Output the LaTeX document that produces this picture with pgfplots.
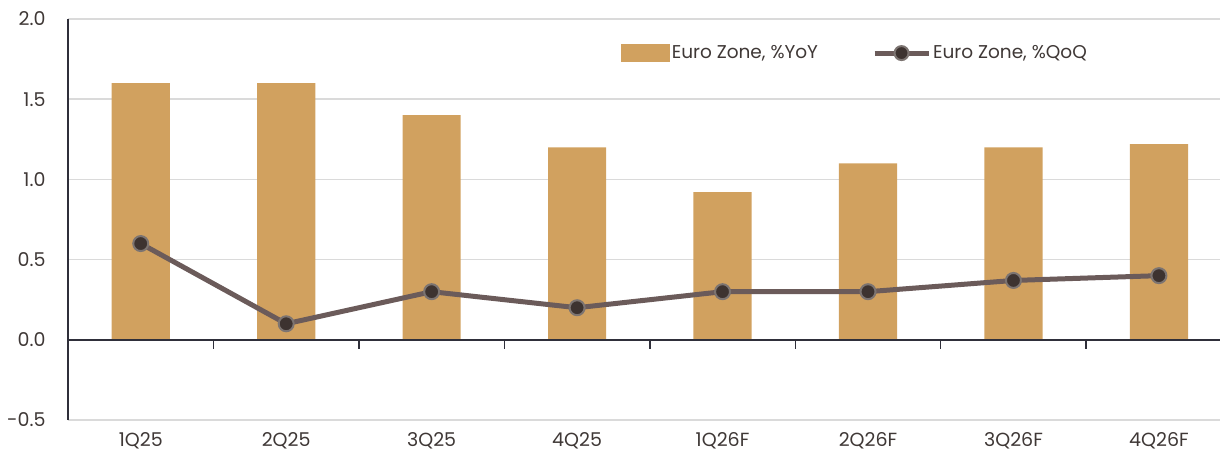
\documentclass[border=0pt]{standalone}
\usepackage{pgfplots}
\pgfplotsset{compat=1.18}
\usepackage{fontspec}
\setmainfont{Poppins}
\definecolor{barc}{HTML}{D1A15F}
\definecolor{linec}{HTML}{6B5B5A}
\definecolor{markc}{HTML}{3D3330}
\definecolor{markline}{HTML}{7C7471}
\definecolor{gridc}{HTML}{DADADA}
\definecolor{axisc}{HTML}{2F2F3A}
\definecolor{labc}{HTML}{3F3836}

\begin{document}
\begin{tikzpicture}
\begin{axis}[
    scale only axis,
    width=1152pt, height=401pt,
    xmin=-0.5, xmax=7.42,
    ymin=-0.5, ymax=2.0,
    clip=false,
    axis y line*=left,
    axis x line*=bottom,
    x axis line style={draw=none},
    y axis line style={axisc, line width=1.6pt},
    ytick={-0.5,0,0.5,1,1.5,2},
    y tick label style={/pgf/number format/fixed, /pgf/number format/fixed zerofill,
        /pgf/number format/precision=1, /pgf/number format/assume math mode=true,
        xshift=-19pt},
    xtick={0,...,7},
    xticklabels={1Q25,2Q25,3Q25,4Q25,1Q26F,2Q26F,3Q26F,4Q26F},
    xticklabel style={yshift=-9pt},
    major tick length=0pt,
    ymajorgrids,
    grid style={gridc, line width=1.6pt},
    tick label style={font=\fontsize{19}{22}\selectfont, text=labc},
    legend columns=2,
    legend style={at={(0.683,0.915)}, anchor=center, draw=none, fill=none,
        font=\fontsize{18.5}{22}\selectfont, text=labc,
        /tikz/every even column/.append style={column sep=52pt}},
]
\addplot[ybar, bar width=0.4, fill=barc, draw=none,
    legend image code/.code={\fill[barc] (0pt,-9pt) rectangle (49pt,9pt);}]
    coordinates {(0,1.6) (1,1.6) (2,1.4) (3,1.2) (4,0.92) (5,1.1) (6,1.2) (7,1.22)};
\addlegendentry{Euro Zone, \%YoY}

\draw[axisc, line width=1.6pt] (axis cs:-0.5,0) -- (axis cs:7.42,0);
\pgfplotsinvokeforeach{0.5,1.5,2.5,3.5,4.5,5.5,6.5}{
    \draw[axisc, line width=1.4pt] (axis cs:#1,0) -- ++(0pt,-9pt);
}

\addplot[linec, line width=5pt, mark=*, mark size=7.5pt,
    mark options={fill=markc, draw=markline, line width=2pt},
    legend image code/.code={
        \draw[linec, line width=5pt] (0pt,0pt) -- (54pt,0pt);
        \draw[fill=markc, draw=markline, line width=2pt] (27pt,0pt) circle (7pt);}]
    coordinates {(0,0.6) (1,0.1) (2,0.3) (3,0.2) (4,0.3) (5,0.3) (6,0.37) (7,0.4)};
\addlegendentry{Euro Zone, \%QoQ}

\path (rel axis cs:0,0) ++(-68pt,-44pt);
\path (rel axis cs:1,1) ++(3pt,19pt);
\end{axis}
\end{tikzpicture}
\end{document}
